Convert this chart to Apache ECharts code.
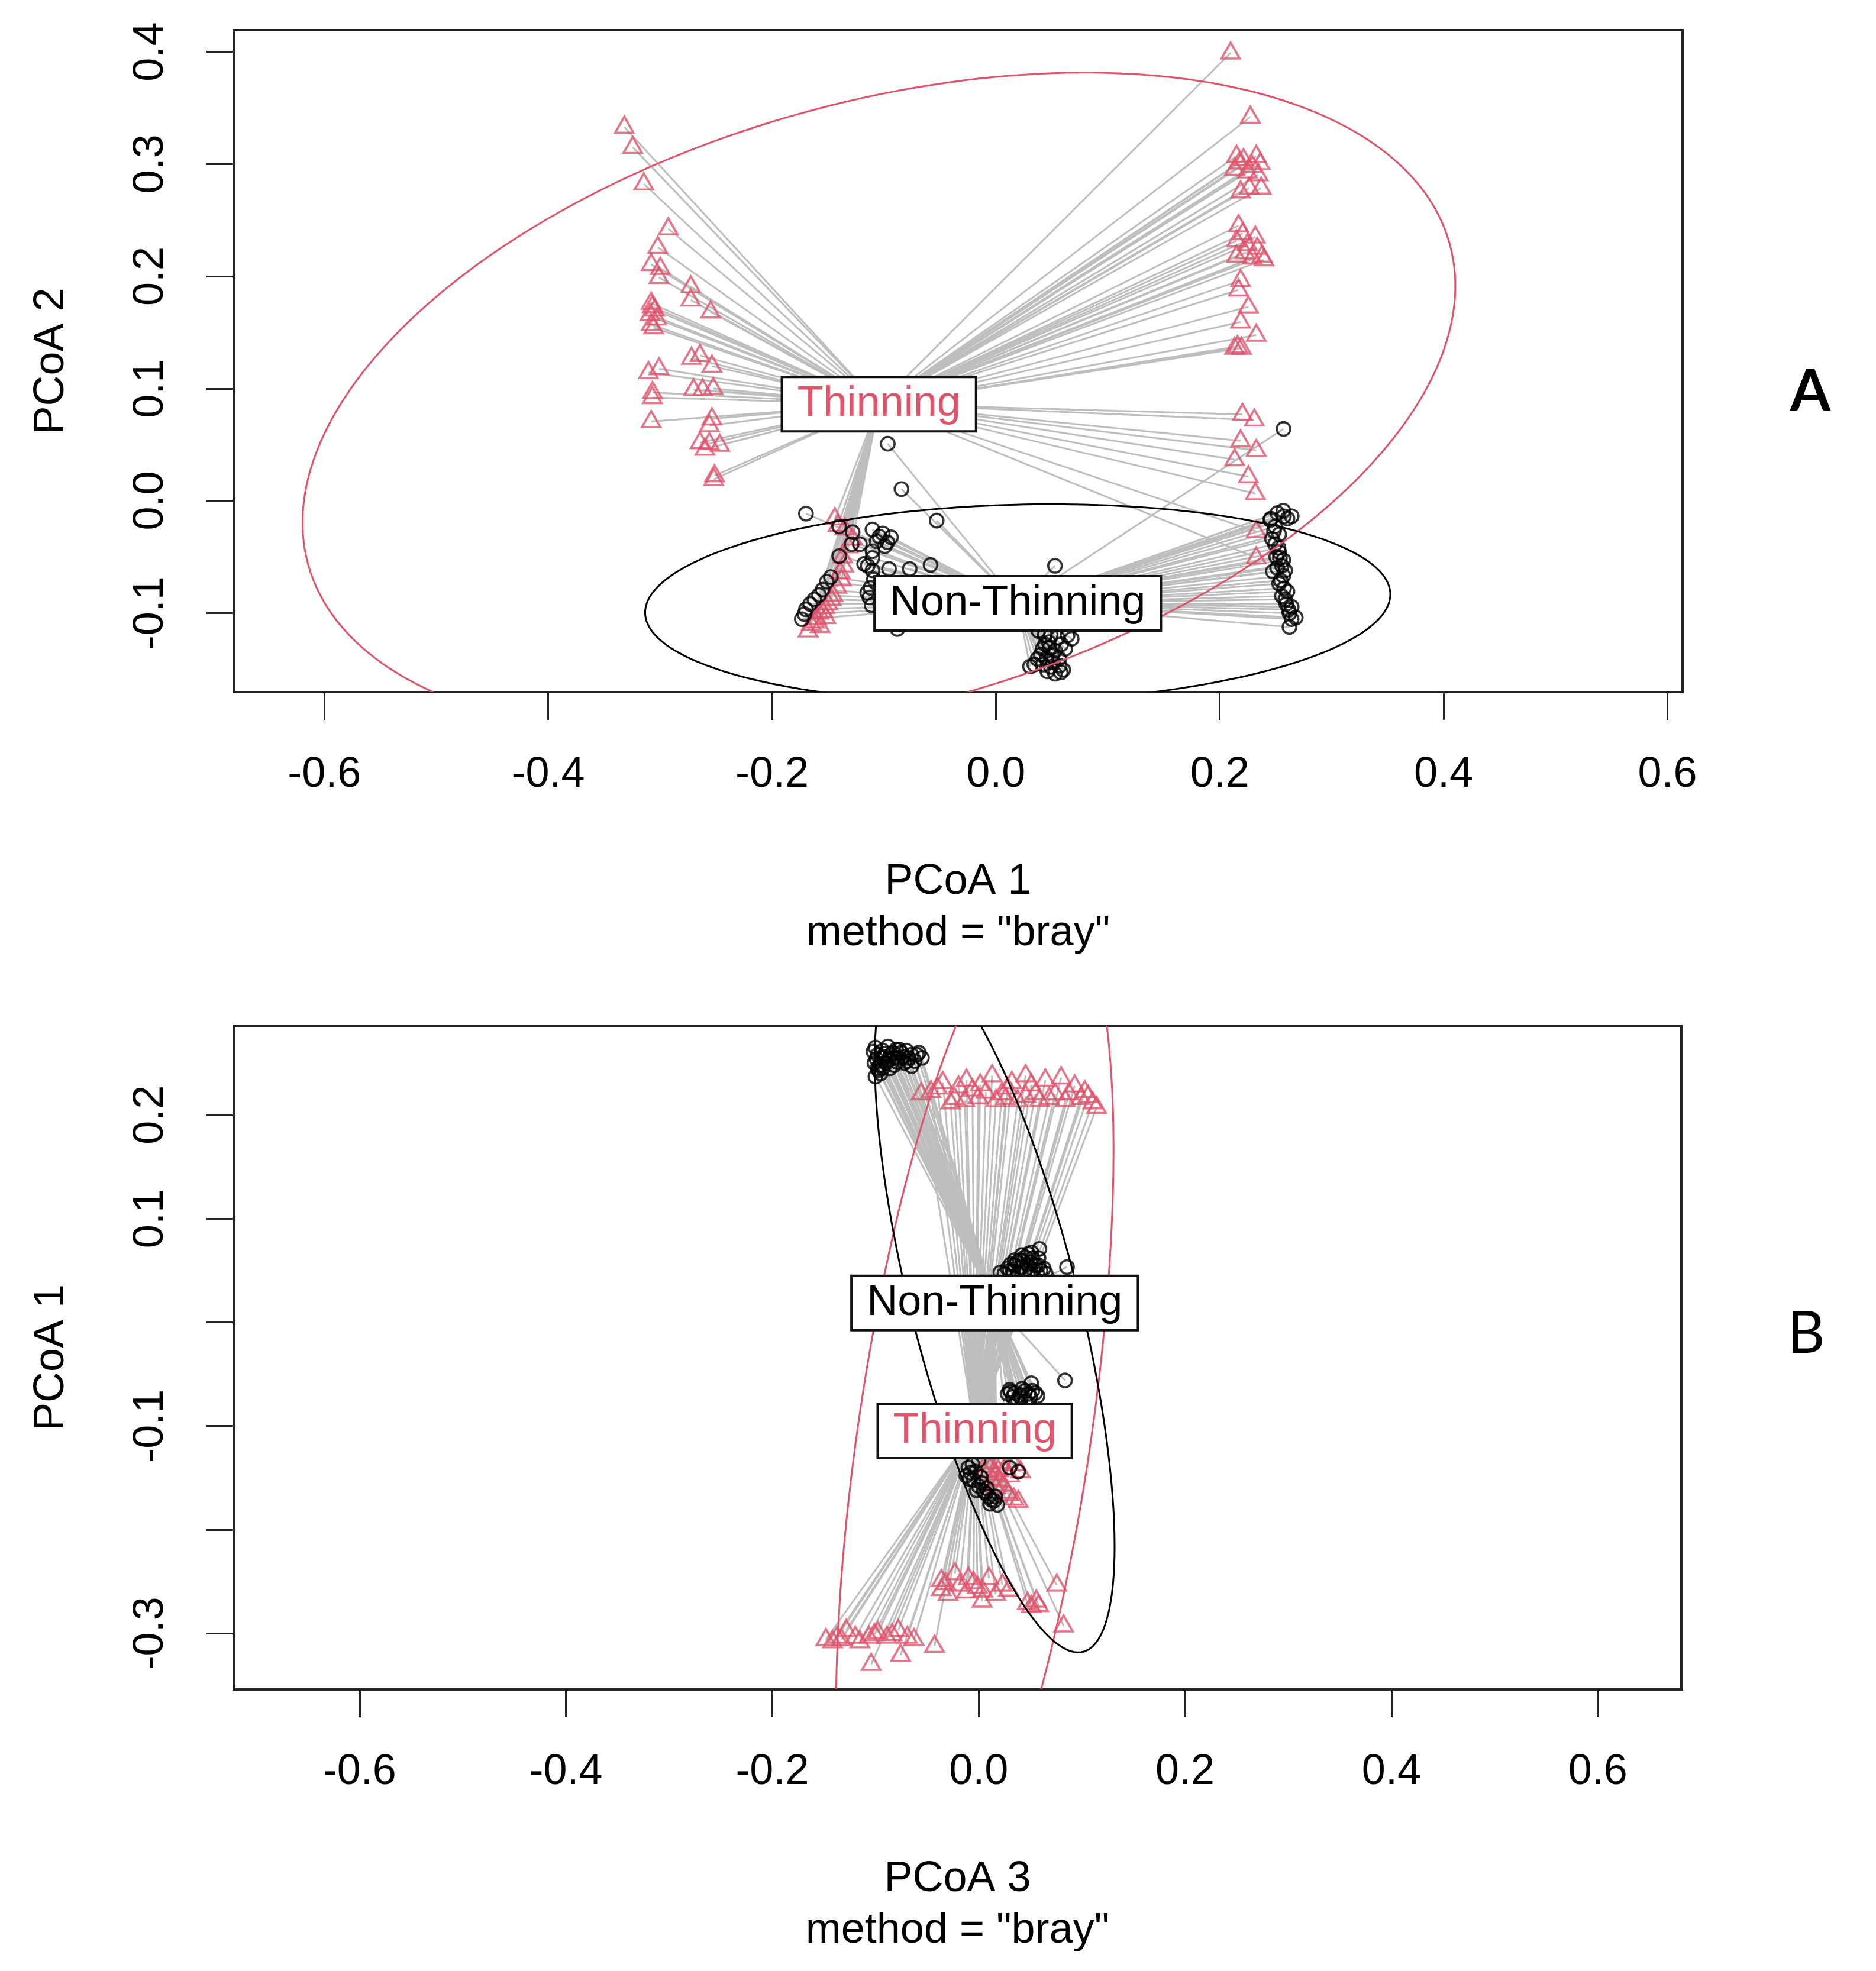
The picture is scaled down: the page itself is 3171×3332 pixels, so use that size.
<!DOCTYPE html>
<html>
<head>
<meta charset="utf-8">
<script src="https://cdn.jsdelivr.net/npm/echarts/dist/echarts.min.js"></script>
<style>
html,body{margin:0;padding:0;background:#fff;}
#chart{width:3171px;height:3332px;}
</style>
</head>
<body>
<div id="chart"></div>
<script>
// ---------------- DATA ----------------
const groupNames = ['Thinning', 'Non-Thinning'];

// Panel A: x = PCoA 1, y = PCoA 2
const thinA = [
  [-0.332,0.333],[-0.3245,0.315],[-0.3146,0.2824],[-0.2927,0.2424],[-0.3021,0.2259],[-0.308,0.2106],
  [-0.2998,0.2071],[-0.301,0.1989],[-0.2726,0.1907],[-0.2726,0.1789],[-0.2549,0.1683],
  [-0.308,0.176],[-0.305,0.170],[-0.309,0.166],[-0.303,0.162],[-0.307,0.173],[-0.3057,0.1542],[-0.308,0.157],
  [-0.2644,0.1295],[-0.2537,0.12],[-0.272,0.127],[-0.301,0.1177],[-0.3104,0.1142],[-0.3068,0.0965],[-0.307,0.092],
  [-0.2702,0.0989],[-0.262,0.0989],[-0.2525,0.1],[-0.308,0.0706],[-0.2537,0.073],[-0.256,0.067],
  [-0.2644,0.0518],[-0.256,0.051],[-0.2467,0.0495],[-0.260,0.046],[-0.2514,0.0224],[-0.252,0.019],
  [0.2097,0.399],[0.2273,0.3419],[0.215,0.307],[0.2212,0.304],[0.2326,0.307],[0.2362,0.3005],[0.2133,0.2955],
  [0.2247,0.293],[0.2344,0.2905],[0.2186,0.2753],[0.237,0.2787],[0.2264,0.2787],[0.2175,0.301],[0.229,0.298],
  [0.2168,0.2451],[0.2318,0.235],[0.215,0.2316],[0.2247,0.2283],[0.2379,0.2181],[0.215,0.2181],[0.2291,0.2164],[0.2396,0.2147],
  [0.2205,0.238],[0.2335,0.225],[0.2225,0.221],
  [0.2186,0.1963],[0.2168,0.1879],[0.2256,0.1728],[0.2186,0.1593],[0.2326,0.1476],[0.2159,0.1375],[0.2133,0.136],[0.2194,0.136],
  [0.2203,0.077],[0.2309,0.072],[0.2186,0.0534],[0.2326,0.045],[0.2133,0.0366],[0.2256,0.0215],[0.2318,0.0064],
  [0.2326,-0.0273],[0.2326,-0.0508],
  [-0.1439,-0.016],[-0.135,-0.025],[-0.128,-0.034],[-0.137,-0.05],[-0.136,-0.058],[-0.138,-0.0704],[-0.142,-0.077],
  [-0.1456,-0.0844],[-0.150,-0.092],[-0.1548,-0.0985],[-0.158,-0.1],[-0.16,-0.105],[-0.165,-0.11],[-0.1678,-0.116],
  [-0.141,-0.022],[-0.132,-0.041],[-0.139,-0.064],[-0.147,-0.088],[-0.153,-0.095],[-0.162,-0.108],[-0.157,-0.112],[-0.152,-0.104]
];
const nonThinA = [
  [-0.0966,0.0508],[-0.0844,0.0104],[-0.1697,-0.0115],[-0.0529,-0.0177],[0.257,0.064],
  [-0.1103,-0.0256],[-0.1011,-0.0291],[-0.0937,-0.0326],[-0.1066,-0.0361],[-0.1215,-0.0387],[-0.0992,-0.0405],
  [-0.1103,-0.0449],[-0.1103,-0.051],[-0.1177,-0.0563],[-0.0955,-0.0607],[-0.077,-0.0607],[-0.0584,-0.0572],
  [-0.1103,-0.062],[-0.112,-0.0776],[-0.113,-0.0862],[-0.111,-0.0932],[-0.088,-0.1143],[-0.1511,-0.0721],
  [-0.1548,-0.0792],[-0.1622,-0.0879],[-0.1697,-0.0967],[-0.1734,-0.1055],[-0.14,-0.0229],[-0.1289,-0.0387],[-0.14,-0.0493],
  [-0.104,-0.032],[-0.097,-0.037],[-0.1145,-0.058],[-0.109,-0.07],[-0.115,-0.082],[-0.158,-0.084],[-0.166,-0.092],[-0.171,-0.101],
  [-0.1475,-0.068],[-0.128,-0.028],
  [0.0528,-0.058],[0.038,-0.116],[0.049,-0.1196],[0.064,-0.12],[0.0677,-0.123],[0.0417,-0.1319],[0.0528,-0.1337],
  [0.0454,-0.1406],[0.0565,-0.1406],[0.0343,-0.1459],[0.0491,-0.148],[0.0528,-0.1542],[0.0602,-0.1507],
  [0.0305,-0.1477],[0.0472,-0.126],[0.0584,-0.128],[0.0436,-0.1196],
  [0.040,-0.137],[0.051,-0.144],[0.046,-0.152],[0.057,-0.147],[0.037,-0.141],[0.055,-0.122],[0.062,-0.132],
  [0.044,-0.128],[0.050,-0.138],[0.042,-0.146],[0.058,-0.153],[0.048,-0.131],
  [0.2568,-0.0089],[0.2457,-0.0159],[0.2605,-0.0159],[0.2494,-0.0229],[0.2531,-0.03],[0.2494,-0.0387],
  [0.2531,-0.0458],[0.2568,-0.0528],[0.2513,-0.0598],[0.2568,-0.0669],[0.2531,-0.0739],[0.2605,-0.0809],
  [0.2586,-0.0879],[0.2623,-0.1003],[0.2642,-0.1055],[0.2623,-0.1125],[0.2573,-0.0138],[0.245,-0.0171],
  [0.2643,-0.0138],[0.2467,-0.034],[0.2538,-0.0508],[0.2643,-0.0945],[0.2679,-0.1041],[0.2475,-0.063],[0.2555,-0.085],
  [0.2515,-0.011],[0.2485,-0.027],[0.2525,-0.042],[0.2555,-0.058],[0.2545,-0.071],[0.2575,-0.078],[0.2595,-0.092],
  [0.2615,-0.097],[0.2505,-0.050],[0.2585,-0.062]
];
const thinCentroidA = [-0.1045, 0.086];
const nonThinCentroidA = [0.0195, -0.0915];
// ellipse: [semi-major, semi-minor, angle in degrees]
const thinEllipseA = [0.5296, 0.2684, 15.7];
const nonThinEllipseA = [0.333, 0.088, 1.5];

// Panel B: x = PCoA 3, y = PCoA 1
const thinB = [
  [-0.0558,0.2204],[-0.0348,0.2313],[-0.0233,0.216],[-0.0119,0.2336],[-0.0004,0.2166],[0.013,0.2379],[0.0225,0.2204],
  [0.0321,0.2313],[0.0455,0.2379],[0.055,0.2204],[0.0646,0.2336],[0.0799,0.2358],[0.0876,0.2204],[0.099,0.216],
  [0.1105,0.2117],[0.1143,0.2073],[0.1028,0.2226],[-0.0463,0.2226],[-0.0195,0.227],[0.0015,0.229],[0.0262,0.216],
  [0.0378,0.2139],[0.0684,0.216],[0.0741,0.2204],[0.0455,0.2182],[0.0168,0.2139],[-0.0272,0.2117],[-0.0134,0.2139],
  [-0.040,0.226],[-0.006,0.224],[0.007,0.222],[0.028,0.226],[0.051,0.229],[0.059,0.214],[0.084,0.214],[0.093,0.228],[0.106,0.218],
  [0.0077,-0.1354],[0.0165,-0.1463],[0.0252,-0.1409],[0.0406,-0.1441],[0.0165,-0.1594],[0.0274,-0.1638],
  [0.034,-0.1703],[0.0384,-0.1725],[0.0208,-0.1528],[0.0055,-0.1441],
  [0.012,-0.139],[0.020,-0.135],[0.030,-0.148],[0.024,-0.157],[0.029,-0.166],[0.013,-0.151],[0.035,-0.137],[0.019,-0.143],
  [-0.0362,-0.249],[-0.023,-0.2424],[-0.0099,-0.2468],[-0.0011,-0.2555],[0.0099,-0.2468],[0.023,-0.2534],
  [-0.0296,-0.2621],[-0.012,-0.2599],[0.0033,-0.2687],[0.0165,-0.2621],[0.0472,-0.2708],[0.0581,-0.273],
  [0.0757,-0.2534],[0.0823,-0.2927],[0.0559,-0.2687],[-0.0362,-0.2577],[-0.0186,-0.2534],
  [-0.032,-0.252],[-0.005,-0.251],[0.004,-0.259],[0.029,-0.258],[0.051,-0.274],
  [-0.1481,-0.3058],[-0.1372,-0.3036],[-0.1284,-0.297],[-0.1416,-0.308],[-0.1064,-0.3036],[-0.0977,-0.2992],
  [-0.0889,-0.3036],[-0.0779,-0.297],[-0.0691,-0.3036],[-0.0626,-0.3058],[-0.1042,-0.3298],[-0.0757,-0.321],
  [-0.0428,-0.3123],[-0.1196,-0.3036],[-0.1152,-0.308],[-0.133,-0.306],[-0.101,-0.301],[-0.084,-0.301]
];
const nonThinB = [
  [-0.1,0.265],[-0.098,0.258],[-0.101,0.25],[-0.097,0.243],[-0.093,0.262],[-0.088,0.266],[-0.085,0.258],
  [-0.08,0.263],[-0.075,0.26],[-0.07,0.262],[-0.065,0.258],[-0.06,0.258],[-0.055,0.255],[-0.09,0.25],
  [-0.082,0.248],[-0.072,0.25],[-0.065,0.247],[-0.1,0.237],[-0.095,0.24],[-0.078,0.255],
  [-0.102,0.261],[-0.099,0.254],[-0.096,0.248],[-0.092,0.256],[-0.087,0.253],[-0.083,0.26],[-0.077,0.263],
  [-0.073,0.256],[-0.068,0.255],[-0.062,0.252],[-0.058,0.26],[-0.086,0.245],[-0.079,0.251],[-0.069,0.252],
  [-0.098,0.245],[-0.093,0.245],[-0.091,0.259],[-0.082,0.255],
  [0.0589,0.0708],[0.0856,0.0533],[0.0512,0.0675],[0.03,0.05],[0.035,0.055],[0.04,0.06],[0.045,0.063],
  [0.05,0.058],[0.055,0.055],[0.06,0.05],[0.045,0.05],[0.038,0.047],[0.025,0.047],[0.05,0.047],[0.065,0.047],
  [0.042,0.065],[0.035,0.06],[0.058,0.062],
  [0.028,0.052],[0.033,0.049],[0.041,0.053],[0.047,0.056],[0.053,0.051],[0.058,0.055],[0.063,0.052],
  [0.037,0.058],[0.043,0.059],[0.052,0.062],[0.031,0.056],[0.048,0.066],[0.021,0.048],[0.057,0.046],
  [0.051,-0.0587],[0.0837,-0.056],[0.03,-0.065],[0.035,-0.068],[0.04,-0.07],[0.045,-0.066],[0.05,-0.072],
  [0.055,-0.068],[0.038,-0.075],[0.045,-0.077],[0.033,-0.072],
  [0.028,-0.069],[0.042,-0.064],[0.048,-0.069],[0.052,-0.066],[0.057,-0.071],[0.036,-0.078],[0.041,-0.073],[0.031,-0.067],
  [0.0,-0.133],[-0.01,-0.14],[-0.012,-0.148],[-0.005,-0.152],[0.0,-0.158],[0.005,-0.163],[0.01,-0.168],
  [0.015,-0.172],[0.018,-0.176],[-0.008,-0.145],[0.008,-0.16],[0.0384,-0.144],[0.03,-0.14],
  [-0.006,-0.137],[-0.003,-0.144],[0.002,-0.149],[-0.009,-0.151],[0.003,-0.155],[0.007,-0.165],[0.012,-0.171],
  [0.016,-0.168],[-0.002,-0.162],[0.011,-0.175]
];
const thinCentroidB = [-0.0038, -0.1048];
const nonThinCentroidB = [0.0155, 0.0186];
const thinEllipseB = [0.5147, 0.1127, 81.6];
const nonThinEllipseB = [0.347, 0.081, -75.7];

// Tick values / labels
const xTicks = [-0.6, -0.4, -0.2, 0.0, 0.2, 0.4, 0.6];
const yTicksA = [-0.1, 0.0, 0.1, 0.2, 0.3, 0.4];
const yTicksB = [-0.3, -0.2, -0.1, 0.0, 0.1, 0.2];
const yLabelsB = [-0.3, -0.1, 0.1, 0.2];
const axisTitlesA = ['PCoA 1', 'PCoA 2'];
const axisTitlesB = ['PCoA 3', 'PCoA 1'];
const subTitle = 'method = "bray"';
const panelTags = ['A', 'B'];

// ---------------- STYLE ----------------
const RED = '#DF536B';
const FONT = 'Liberation Sans';
const FS = 72;

const chart = echarts.init(document.getElementById('chart'), null, {renderer: 'canvas'});

function xAxisCfg(gi, min, max, title) {
  return {
    gridIndex: gi, type: 'value', min: min, max: max,
    axisLine: {show: true, onZero: false, lineStyle: {color: '#222', width: 4}},
    axisTick: {show: true, inside: false, length: 47, customValues: xTicks, lineStyle: {color: '#222', width: 3}},
    axisLabel: {show: true, customValues: xTicks, formatter: v => v.toFixed(1), fontSize: FS, fontFamily: FONT, color: '#000', margin: 104},
    splitLine: {show: false},
    name: title + '\n' + subTitle, nameLocation: 'middle', nameGap: 278,
    nameTextStyle: {fontSize: FS, fontFamily: FONT, color: '#000', lineHeight: 87}
  };
}
function yAxisCfg(gi, min, max, ticks, labels, title) {
  return {
    gridIndex: gi, type: 'value', min: min, max: max,
    axisLine: {show: true, onZero: false, lineStyle: {color: '#222', width: 4}},
    axisTick: {show: true, inside: false, length: 46, customValues: ticks, lineStyle: {color: '#222', width: 3}},
    axisLabel: {show: true, customValues: labels, rotate: 90, formatter: v => v.toFixed(1), fontSize: FS, fontFamily: FONT, color: '#000', margin: 104},
    splitLine: {show: false},
    name: title, nameLocation: 'middle', nameGap: 272, nameRotate: 90,
    nameTextStyle: {fontSize: FS, fontFamily: FONT, color: '#000'}
  };
}

function spiderSeries(gi, pts, c) {
  return {
    type: 'custom', xAxisIndex: gi, yAxisIndex: gi, silent: true, z: 1,
    data: pts.map(p => [p[0], p[1], c[0], c[1]]),
    encode: {x: [0, 2], y: [1, 3]},
    renderItem: function (params, api) {
      const p1 = api.coord([api.value(0), api.value(1)]);
      const p2 = api.coord([api.value(2), api.value(3)]);
      return {type: 'line', shape: {x1: p1[0], y1: p1[1], x2: p2[0], y2: p2[1]},
              style: {stroke: '#BEBEBE', lineWidth: 3}};
    }
  };
}
function pointSeries(gi, pts, isThin) {
  return {
    type: 'scatter', xAxisIndex: gi, yAxisIndex: gi, z: 3, silent: true,
    data: pts,
    symbol: isThin ? 'triangle' : 'circle',
    symbolSize: isThin ? [31, 27] : 23,
    symbolOffset: isThin ? [0, -4] : [0, 0],
    itemStyle: {color: 'rgba(255,255,255,0)', borderColor: isThin ? RED : '#000', borderWidth: 3.6}
  };
}
function ellipseSeries(gi, c, e, color) {
  return {
    type: 'custom', xAxisIndex: gi, yAxisIndex: gi, silent: true, z: 4,
    data: [[c[0], c[1], e[0], e[1], e[2]]],
    encode: {x: 0, y: 1},
    renderItem: function (params, api) {
      const cx = api.value(0), cy = api.value(1), a = api.value(2), b = api.value(3);
      const th = api.value(4) * Math.PI / 180;
      const pts = [];
      const N = 240;
      for (let i = 0; i <= N; i++) {
        const t = 2 * Math.PI * i / N;
        const dx = a * Math.cos(t) * Math.cos(th) - b * Math.sin(t) * Math.sin(th);
        const dy = a * Math.cos(t) * Math.sin(th) + b * Math.sin(t) * Math.cos(th);
        pts.push(api.coord([cx + dx, cy + dy]));
      }
      const cs = params.coordSys;
      return {
        type: 'group',
        children: [{type: 'polyline', shape: {points: pts}, style: {stroke: color, lineWidth: 3, fill: null},
          clipPath: {type: 'rect', shape: {x: cs.x, y: cs.y, width: cs.width, height: cs.height}}}]
      };
    }
  };
}
function labelSeries(gi, c, text, color) {
  return {
    type: 'custom', xAxisIndex: gi, yAxisIndex: gi, silent: true, z: 6,
    data: [[c[0], c[1]]],
    encode: {x: 0, y: 1},
    renderItem: function (params, api) {
      const p = api.coord([api.value(0), api.value(1)]);
      return {type: 'text', x: p[0], y: p[1], z2: 10,
        style: {text: text, fill: color, font: FS + 'px "' + FONT + '"', align: 'center', verticalAlign: 'middle',
          backgroundColor: '#fff', borderColor: '#111', borderWidth: 4, padding: [4, 24, 2, 24], lineHeight: 82}};
    }
  };
}

const option = {
  animation: false,
  backgroundColor: '#fff',
  grid: [
    {left: 395, top: 51, width: 2449, height: 1119, show: true, borderColor: '#222', borderWidth: 4, backgroundColor: 'rgba(0,0,0,0)', containLabel: false},
    {left: 395, top: 1734, width: 2447, height: 1122, show: true, borderColor: '#222', borderWidth: 4, backgroundColor: 'rgba(0,0,0,0)', containLabel: false}
  ],
  xAxis: [
    xAxisCfg(0, -0.681, 0.6135, axisTitlesA[0]),
    xAxisCfg(1, -0.722, 0.681, axisTitlesB[0])
  ],
  yAxis: [
    yAxisCfg(0, -0.1705, 0.4193, yTicksA, yTicksA, axisTitlesA[1]),
    yAxisCfg(1, -0.354, 0.286, yTicksB, yLabelsB, axisTitlesB[1])
  ],
  graphic: [
    {type: 'text', x: 3060, y: 662, style: {text: panelTags[0], font: 'bold 98px Lato', fill: '#000', align: 'center', verticalAlign: 'middle'}},
    {type: 'text', x: 3053, y: 2255, style: {text: panelTags[1], font: '98px Lato', fill: '#000', align: 'center', verticalAlign: 'middle'}}
  ],
  series: [
    spiderSeries(0, thinA, thinCentroidA),
    spiderSeries(0, nonThinA, nonThinCentroidA),
    pointSeries(0, thinA, true),
    pointSeries(0, nonThinA, false),
    ellipseSeries(0, thinCentroidA, thinEllipseA, RED),
    ellipseSeries(0, nonThinCentroidA, nonThinEllipseA, '#000'),
    labelSeries(0, thinCentroidA, groupNames[0], RED),
    labelSeries(0, nonThinCentroidA, groupNames[1], '#000'),

    spiderSeries(1, thinB, thinCentroidB),
    spiderSeries(1, nonThinB, nonThinCentroidB),
    pointSeries(1, thinB, true),
    pointSeries(1, nonThinB, false),
    ellipseSeries(1, thinCentroidB, thinEllipseB, RED),
    ellipseSeries(1, nonThinCentroidB, nonThinEllipseB, '#000'),
    labelSeries(1, thinCentroidB, groupNames[0], RED),
    labelSeries(1, nonThinCentroidB, groupNames[1], '#000')
  ]
};
chart.setOption(option);
</script>
</body>
</html>
